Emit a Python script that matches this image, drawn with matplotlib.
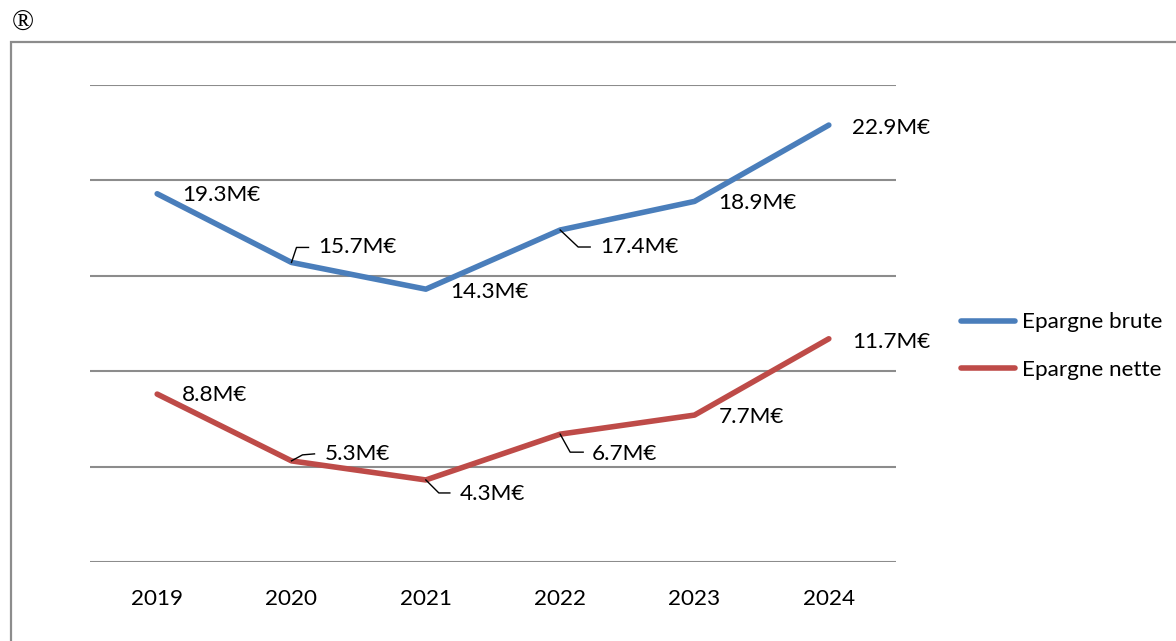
import matplotlib
matplotlib.use('Agg')
import matplotlib.pyplot as plt
from matplotlib.patches import Rectangle

# ---- données ----
years = ['2019', '2020', '2021', '2022', '2023', '2024']
epargne_brute = [19.3, 15.7, 14.3, 17.4, 18.9, 22.9]
epargne_nette = [8.8, 5.3, 4.3, 6.7, 7.7, 11.7]
series_names = ['Epargne brute', 'Epargne nette']

BLUE = '#4A7EBB'
RED = '#BE4B48'
GRID = '#8C8C8C'
FONT = 'Lato'
FS = 16.2

# décalage des étiquettes (pixels, x vers la droite, y vers le haut) et traits de rappel
brute_offsets = [(25, -1), (27, 15), (24, -3), (40, -17), (24, -2), (23, -3)]
brute_leaders = [None, [(0, 0), (5, 15), (17, 15)], None,
                 [(0, 0), (18, -17), (30, -17)], None, None]
nette_offsets = [(25, -1), (33, 7), (34, -14), (32, -20), (24, -2), (23, -3)]
nette_leaders = [None, [(0, 0), (11, 6), (23, 7)], [(0, 0), (13, -13), (24, -13)],
                 [(0, 0), (10, -18), (23, -18)], None, None]

fig = plt.figure(figsize=(11.76, 6.41), dpi=100)
ax = fig.add_axes([90 / 1176, 79 / 641, 806 / 1176, 477 / 641])

x = list(range(len(years)))
ax.plot(x, epargne_brute, color=BLUE, linewidth=4, solid_capstyle='round',
        solid_joinstyle='round', label=series_names[0], zorder=3)
ax.plot(x, epargne_nette, color=RED, linewidth=4, solid_capstyle='round',
        solid_joinstyle='round', label=series_names[1], zorder=3)


def label_points(values, offsets, leaders):
    for xi, v, (dx, dy), lead in zip(x, values, offsets, leaders):
        ax.annotate(f'{v:.1f}M€', xy=(xi, v), xytext=(dx, dy),
                    textcoords='offset pixels', ha='left', va='center',
                    fontsize=FS, family=FONT, color='black', zorder=4)
        if lead:
            # trait de rappel coudé, sommets décalés en pixels depuis le point
            base = ax.transData.transform((xi, v))
            pts = [fig.transFigure.inverted().transform(base + (px, py))
                   for px, py in lead]
            fig.lines.append(plt.Line2D([p[0] for p in pts], [p[1] for p in pts],
                                        transform=fig.transFigure, color='black',
                                        linewidth=1.0))


ax.set_xlim(-0.5, len(years) - 0.5)
ax.set_ylim(0, 25)
ax.set_yticks([0, 5, 10, 15, 20, 25])
ax.yaxis.grid(True, color=GRID, linewidth=1.5)
ax.set_axisbelow(True)
ax.tick_params(axis='y', left=False, labelleft=False)
ax.tick_params(axis='x', bottom=False, pad=16)
ax.set_xticks(x)
ax.set_xticklabels(years, fontsize=FS, family=FONT)
for s in ax.spines.values():
    s.set_visible(False)

fig.canvas.draw()
label_points(epargne_brute, brute_offsets, brute_leaders)
label_points(epargne_nette, nette_offsets, nette_leaders)

ax.legend(loc='center left', bbox_to_anchor=(941 / 1176, (641 - 346) / 641),
          bbox_transform=fig.transFigure, frameon=False,
          prop={'family': FONT, 'size': FS}, handlelength=2.4,
          handletextpad=0.28, labelspacing=1.2)

# cadre gris autour du graphique
fig.patches.append(Rectangle((11 / 1176, -0.2), 1.2, (641 - 42) / 641 + 0.2,
                             transform=fig.transFigure, fill=False,
                             edgecolor='#8C8C8C', linewidth=1.6))
fig.text(23 / 1176, (641 - 24) / 641, '®', fontsize=21, family='Liberation Serif',
         ha='center', va='center')

fig.savefig('out.png', dpi=100)
